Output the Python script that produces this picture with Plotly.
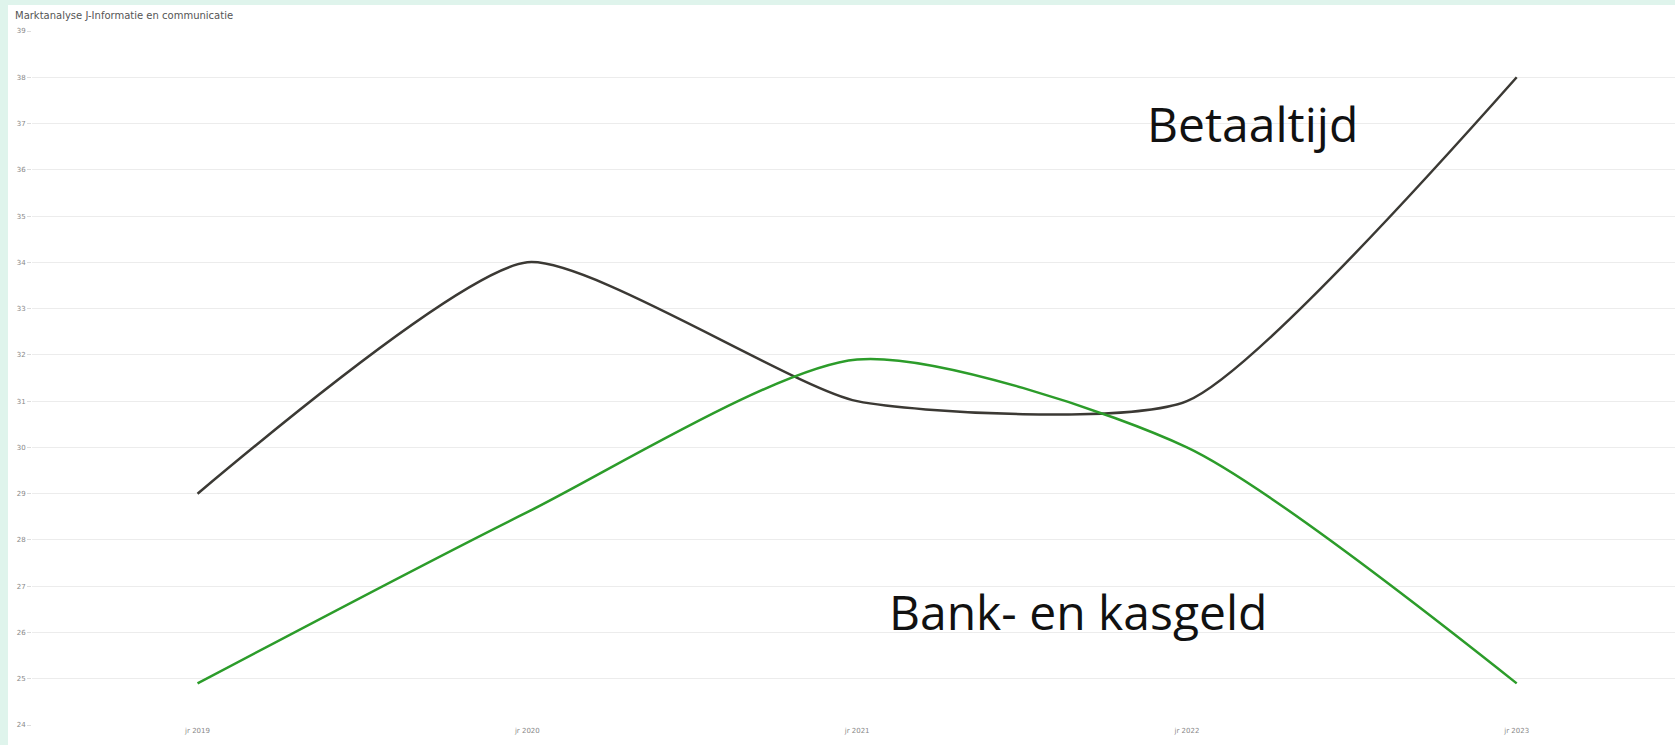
import plotly.graph_objects as go

categories = ["jr 2019", "jr 2020", "jr 2021", "jr 2022", "jr 2023"]
betaaltijd = [29, 34, 31, 31, 38]
bank_kasgeld = [24.9, 28.6, 31.9, 30.0, 24.9]
y_ticks = list(range(24, 40))

W, H = 1675, 745
L, R, T, B = 32, 0, 31, 20
pw, ph = W - L - R, H - T - B

fig = go.Figure()
fig.add_trace(go.Scatter(x=categories, y=betaaltijd, mode="lines", name="Betaaltijd",
                         line=dict(color="#3b3934", width=2.5, shape="spline", smoothing=0.55)))
fig.add_trace(go.Scatter(x=categories, y=bank_kasgeld, mode="lines", name="Bank- en kasgeld",
                         line=dict(color="#2c9c2a", width=2.5, shape="spline", smoothing=0.7)))

# white panel on mint background
fig.add_shape(type="rect", xref="paper", yref="paper", layer="below",
              x0=-(L - 8) / pw, x1=1 + 10 / pw, y0=-(B + 10) / ph, y1=1 + (T - 5) / ph,
              fillcolor="white", line=dict(width=0))

fig.add_annotation(x=3.2, y=37.0, text="Betaaltijd", showarrow=False,
                   font=dict(family="Open Sans", size=48, color="#111111"))
fig.add_annotation(x=2.67, y=26.45, text="Bank- en kasgeld", showarrow=False,
                   font=dict(family="Open Sans", size=48, color="#111111"))

fig.add_annotation(xref="paper", yref="paper", x=-(L - 13) / pw, y=1 + (T - 15) / ph,
                   xanchor="left", yanchor="middle", text="Marktanalyse J-Informatie en communicatie",
                   showarrow=False, font=dict(family="DejaVu Sans", size=10, color="#555555"))

fig.update_layout(
    width=W, height=H,
    margin=dict(l=L, r=R, t=T, b=B),
    paper_bgcolor="#dff4ec", plot_bgcolor="rgba(0,0,0,0)",
    showlegend=False,
    xaxis=dict(range=[-0.502, 4.48], showgrid=False, zeroline=False, showline=False,
               tickfont=dict(family="DejaVu Sans", size=7, color="#888888"), ticks=""),
    yaxis=dict(range=[24, 39], tickvals=y_ticks, showgrid=True, gridcolor="#ececec", gridwidth=1,
               zeroline=False, showline=False, ticks="outside", ticklen=4, tickcolor="#dddddd",
               tickfont=dict(family="DejaVu Sans", size=7, color="#888888")),
)

fig.write_html("out.html", config={"displayModeBar": False})

# remove default page margin so the figure fills the window exactly
with open("out.html", encoding="utf-8") as f:
    html = f.read()
html = html.replace("<head>", "<head><style>html,body{margin:0;padding:0;overflow:hidden;}</style>", 1)
with open("out.html", "w", encoding="utf-8") as f:
    f.write(html)
